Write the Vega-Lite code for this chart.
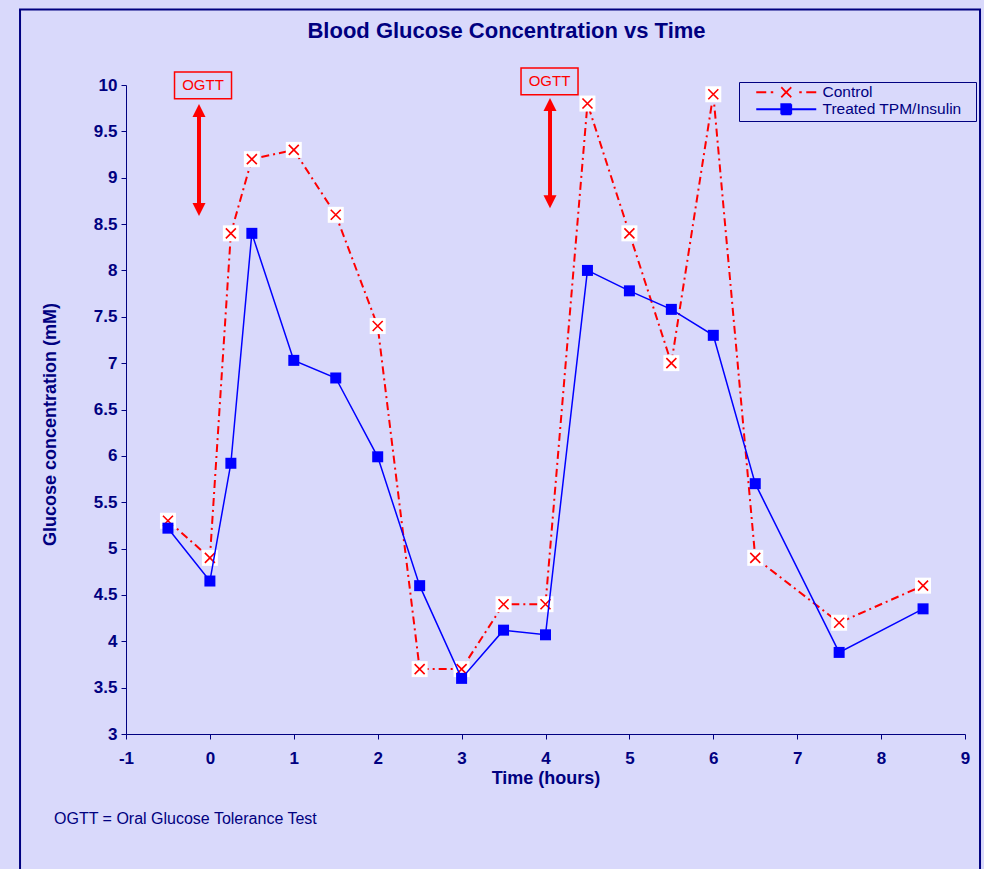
{
  "$schema": "https://vega.github.io/schema/vega-lite/v6.json",
  "width": 839,
  "height": 649,
  "autosize": {"type": "none"},
  "padding": {"left": 126, "top": 85, "right": 19, "bottom": 135},
  "background": "#D9D9FB",
  "config": {
    "view": {"stroke": null},
    "font": "Liberation Sans"
  },
  "title": {
    "text": "Blood Glucose Concentration vs Time",
    "font": "Liberation Sans",
    "fontSize": 22,
    "fontWeight": "bold",
    "color": "#000080",
    "anchor": "middle",
    "dx": -39,
    "offset": -34
  },
  "datasets": {
    "glucose": [
      {"time": -0.5, "series": "Control", "glucose": 5.3},
      {"time": 0, "series": "Control", "glucose": 4.9},
      {"time": 0.25, "series": "Control", "glucose": 8.4},
      {"time": 0.5, "series": "Control", "glucose": 9.2},
      {"time": 1, "series": "Control", "glucose": 9.3},
      {"time": 1.5, "series": "Control", "glucose": 8.6},
      {"time": 2, "series": "Control", "glucose": 7.4},
      {"time": 2.5, "series": "Control", "glucose": 3.7},
      {"time": 3, "series": "Control", "glucose": 3.7},
      {"time": 3.5, "series": "Control", "glucose": 4.4},
      {"time": 4, "series": "Control", "glucose": 4.4},
      {"time": 4.5, "series": "Control", "glucose": 9.8},
      {"time": 5, "series": "Control", "glucose": 8.4},
      {"time": 5.5, "series": "Control", "glucose": 7.0},
      {"time": 6, "series": "Control", "glucose": 9.9},
      {"time": 6.5, "series": "Control", "glucose": 4.9},
      {"time": 7.5, "series": "Control", "glucose": 4.2},
      {"time": 8.5, "series": "Control", "glucose": 4.6},
      {"time": -0.5, "series": "Treated TPM/Insulin", "glucose": 5.22},
      {"time": 0, "series": "Treated TPM/Insulin", "glucose": 4.65},
      {"time": 0.25, "series": "Treated TPM/Insulin", "glucose": 5.92},
      {"time": 0.5, "series": "Treated TPM/Insulin", "glucose": 8.4},
      {"time": 1, "series": "Treated TPM/Insulin", "glucose": 7.03},
      {"time": 1.5, "series": "Treated TPM/Insulin", "glucose": 6.84},
      {"time": 2, "series": "Treated TPM/Insulin", "glucose": 5.99},
      {"time": 2.5, "series": "Treated TPM/Insulin", "glucose": 4.6},
      {"time": 3, "series": "Treated TPM/Insulin", "glucose": 3.6},
      {"time": 3.5, "series": "Treated TPM/Insulin", "glucose": 4.12},
      {"time": 4, "series": "Treated TPM/Insulin", "glucose": 4.07},
      {"time": 4.5, "series": "Treated TPM/Insulin", "glucose": 8.0},
      {"time": 5, "series": "Treated TPM/Insulin", "glucose": 7.78},
      {"time": 5.5, "series": "Treated TPM/Insulin", "glucose": 7.58},
      {"time": 6, "series": "Treated TPM/Insulin", "glucose": 7.3},
      {"time": 6.5, "series": "Treated TPM/Insulin", "glucose": 5.7},
      {"time": 7.5, "series": "Treated TPM/Insulin", "glucose": 3.88},
      {"time": 8.5, "series": "Treated TPM/Insulin", "glucose": 4.35}
    ],
    "ogtt": [
      {"time": -0.13, "tip_top": 9.795, "tip_bottom": 8.587, "shaft_top": 9.7, "shaft_bottom": 8.68, "box_time": -0.082, "box_glucose": 9.995, "label": "OGTT"},
      {"time": 4.054, "tip_top": 9.86, "tip_bottom": 8.67, "shaft_top": 9.77, "shaft_bottom": 8.76, "box_time": 4.048, "box_glucose": 10.038, "label": "OGTT"}
    ],
    "notes": [
      {"time": -1.858, "glucose": 2.083, "text": "OGTT = Oral Glucose Tolerance Test"}
    ],
    "frame": [
      {"time": -2.263, "time2": 9.179, "glucose": 10.814, "glucose2": 1.2}
    ]
  },
  "layer": [
    {
      "data": {"name": "frame"},
      "mark": {"type": "rect", "fill": "transparent", "stroke": "#000080", "strokeWidth": 2},
      "encoding": {
        "x": {"field": "time", "type": "quantitative", "title": "Time (hours)", "scale": {"domain": [-1, 9], "nice": false, "zero": false}},
        "x2": {"field": "time2"},
        "y": {"field": "glucose", "type": "quantitative", "title": "Glucose concentration (mM)", "scale": {"domain": [3, 10], "nice": false, "zero": false}},
        "y2": {"field": "glucose2"}
      }
    },
    {
      "data": {"name": "ogtt"},
      "mark": {"type": "rule", "color": "#FF0000", "strokeWidth": 4, "strokeCap": "butt"},
      "encoding": {
        "x": {"field": "time", "type": "quantitative", "title": "Time (hours)"},
        "y": {"field": "shaft_top", "type": "quantitative", "title": "Glucose concentration (mM)"},
        "y2": {"field": "shaft_bottom"}
      }
    },
    {
      "data": {"name": "ogtt"},
      "mark": {"type": "point", "shape": "M0,-1L1,1L-1,1Z", "filled": true, "fill": "#FF0000", "strokeWidth": 0, "size": 169, "opacity": 1, "yOffset": 6.5},
      "encoding": {
        "x": {"field": "time", "type": "quantitative", "title": "Time (hours)"},
        "y": {"field": "tip_top", "type": "quantitative", "title": "Glucose concentration (mM)"}
      }
    },
    {
      "data": {"name": "ogtt"},
      "mark": {"type": "point", "shape": "M0,1L1,-1L-1,-1Z", "filled": true, "fill": "#FF0000", "strokeWidth": 0, "size": 169, "opacity": 1, "yOffset": -6.5},
      "encoding": {
        "x": {"field": "time", "type": "quantitative", "title": "Time (hours)"},
        "y": {"field": "tip_bottom", "type": "quantitative", "title": "Glucose concentration (mM)"}
      }
    },
    {
      "data": {"name": "ogtt"},
      "mark": {"type": "point", "shape": "M-1,-0.47H1V0.47H-1Z", "filled": false, "stroke": "#FF0000", "strokeWidth": 1.5, "size": 3249, "opacity": 1},
      "encoding": {
        "x": {"field": "box_time", "type": "quantitative", "title": "Time (hours)"},
        "y": {"field": "box_glucose", "type": "quantitative", "title": "Glucose concentration (mM)"}
      }
    },
    {
      "data": {"name": "ogtt"},
      "mark": {"type": "text", "color": "#FF0000", "font": "Liberation Sans", "fontSize": 15, "align": "center", "baseline": "middle"},
      "encoding": {
        "x": {"field": "box_time", "type": "quantitative", "title": "Time (hours)"},
        "y": {"field": "box_glucose", "type": "quantitative", "title": "Glucose concentration (mM)"},
        "text": {"field": "label"}
      }
    },
    {
      "data": {"name": "notes"},
      "mark": {"type": "text", "color": "#000080", "font": "Liberation Sans", "fontSize": 16, "align": "left", "baseline": "middle"},
      "encoding": {
        "x": {"field": "time", "type": "quantitative", "title": "Time (hours)"},
        "y": {"field": "glucose", "type": "quantitative", "title": "Glucose concentration (mM)"},
        "text": {"field": "text"}
      }
    },
    {
      "data": {"name": "glucose"},
      "transform": [{"filter": "datum.series === 'Control'"}],
      "mark": {"type": "line", "strokeDash": [8, 4, 2, 4], "strokeWidth": 2},
      "encoding": {
        "x": {
          "field": "time", "type": "quantitative", "title": "Time (hours)",
          "axis": {
            "values": [-1, 0, 1, 2, 3, 4, 5, 6, 7, 8, 9],
            "labelExpr": "toString(datum.value)",
            "grid": false,
            "domainColor": "#000080",
            "tickColor": "#000080",
            "tickSize": 5,
            "labelPadding": 11,
            "labelFont": "Liberation Sans",
            "labelFontSize": 17,
            "labelFontWeight": "bold",
            "labelColor": "#000080",
            "labelFlush": false,
            "labelOverlap": false,
            "titleFont": "Liberation Sans",
            "titleFontSize": 18,
            "titleFontWeight": "bold",
            "titleColor": "#000080",
            "titlePadding": 3
          }
        },
        "y": {
          "field": "glucose", "type": "quantitative", "title": "Glucose concentration (mM)",
          "axis": {
            "values": [3, 3.5, 4, 4.5, 5, 5.5, 6, 6.5, 7, 7.5, 8, 8.5, 9, 9.5, 10],
            "labelExpr": "toString(datum.value)",
            "grid": false,
            "domainColor": "#000080",
            "tickColor": "#000080",
            "tickSize": 5,
            "labelPadding": 4,
            "labelFont": "Liberation Sans",
            "labelFontSize": 17,
            "labelFontWeight": "bold",
            "labelColor": "#000080",
            "labelFlush": false,
            "labelOverlap": false,
            "titleFont": "Liberation Sans",
            "titleFontSize": 18,
            "titleFontWeight": "bold",
            "titleColor": "#000080",
            "titleAngle": -90,
            "titleAlign": "center",
            "titleBaseline": "middle",
            "titleX": -76,
            "titleY": 339
          }
        },
        "color": {
          "field": "series", "type": "nominal",
          "scale": {"domain": ["Control", "Treated TPM/Insulin"], "range": ["#FF0000", "#0000FF"]},
          "legend": {
            "orient": "none",
            "legendX": 613,
            "legendY": -3,
            "title": null,
            "strokeColor": "#000080",
            "fillColor": "#D9D9FB",
            "padding": 2.5,
            "rowPadding": -4,
            "labelFont": "Liberation Sans",
            "labelFontSize": 15.5,
            "labelColor": "#000080",
            "labelExpr": "datum.label + '\u2800'",
            "symbolSize": 100,
            "symbolOffset": 37,
            "labelOffset": 28.5,
            "encode": {
              "symbols": {
                "update": {
                  "shape": [
                    {"test": "datum.value === 'Control'", "value": "M-6,0H-4M-3.1,0H-2.6M-1,-1L1,1M-1,1L1,-1M2.6,0H3.1M4,0H6"},
                    {"value": "M-6,0H6M-1,-1H1V1H-1Z"}
                  ],
                  "fill": [
                    {"test": "datum.value === 'Control'", "value": "transparent"},
                    {"value": "#0000FF"}
                  ],
                  "strokeWidth": {"value": 1.8},
                  "strokeDash": {"value": [1, 0]},
                  "opacity": {"value": 1}
                }
              }
            }
          }
        }
      }
    },
    {
      "data": {"name": "glucose"},
      "transform": [{"filter": "datum.series === 'Control'"}],
      "mark": {"type": "point", "shape": "square", "filled": true, "fill": "#FFFFFF", "strokeWidth": 0, "size": 256, "opacity": 1},
      "encoding": {
        "x": {"field": "time", "type": "quantitative", "title": "Time (hours)"},
        "y": {"field": "glucose", "type": "quantitative", "title": "Glucose concentration (mM)"}
      }
    },
    {
      "data": {"name": "glucose"},
      "transform": [{"filter": "datum.series === 'Control'"}],
      "mark": {"type": "point", "shape": "M-1,-1L1,1M-1,1L1,-1", "filled": false, "stroke": "#FF0000", "strokeWidth": 1.6, "size": 100, "opacity": 1},
      "encoding": {
        "x": {"field": "time", "type": "quantitative", "title": "Time (hours)"},
        "y": {"field": "glucose", "type": "quantitative", "title": "Glucose concentration (mM)"}
      }
    },
    {
      "data": {"name": "glucose"},
      "transform": [{"filter": "datum.series === 'Treated TPM/Insulin'"}],
      "mark": {"type": "line", "strokeWidth": 1.5},
      "encoding": {
        "x": {"field": "time", "type": "quantitative", "title": "Time (hours)"},
        "y": {"field": "glucose", "type": "quantitative", "title": "Glucose concentration (mM)"},
        "color": {
          "field": "series", "type": "nominal",
          "scale": {"domain": ["Control", "Treated TPM/Insulin"], "range": ["#FF0000", "#0000FF"]}
        }
      }
    },
    {
      "data": {"name": "glucose"},
      "transform": [{"filter": "datum.series === 'Treated TPM/Insulin'"}],
      "mark": {"type": "point", "shape": "square", "filled": true, "fill": "#0000FF", "strokeWidth": 0, "size": 121, "opacity": 1},
      "encoding": {
        "x": {"field": "time", "type": "quantitative", "title": "Time (hours)"},
        "y": {"field": "glucose", "type": "quantitative", "title": "Glucose concentration (mM)"}
      }
    }
  ]
}
